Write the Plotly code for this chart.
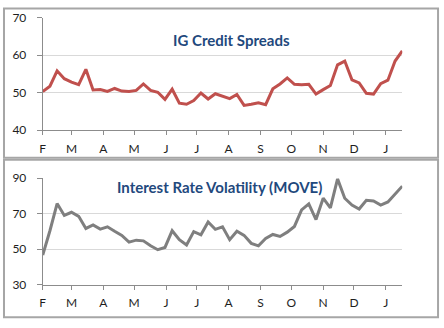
import plotly.graph_objects as go
import pandas as pd

W, H = 444, 328

# weekly observations, Feb 1 .. mid-Jan
start_date = "2013-02-01"
n_points = 51

ig_spreads = [50.3, 51.7, 55.8, 53.7, 52.8, 52.1, 56.2, 50.7, 50.8, 50.3,
              51.1, 50.4, 50.3, 50.6, 52.3, 50.6, 50.1, 48.2, 50.9, 47.2,
              46.9, 47.9, 49.9, 48.3, 49.7, 49.1, 48.4, 49.5, 46.6, 46.9,
              47.3, 46.8, 51.0, 52.3, 53.9, 52.2, 52.1, 52.2, 49.6, 50.8,
              51.9, 57.4, 58.4, 53.4, 52.6, 49.8, 49.6, 52.4, 53.3, 58.4,
              61.1]

move_index = [46.7, 60.4, 75.7, 69.0, 70.8, 68.5, 61.7, 63.7, 61.3, 62.6,
              60.1, 57.8, 54.0, 55.1, 54.7, 51.9, 49.7, 51.0, 60.4, 55.4,
              52.4, 59.9, 58.1, 65.3, 61.2, 62.6, 55.4, 60.1, 57.8, 53.3,
              51.9, 56.0, 58.3, 57.2, 59.6, 62.8, 72.1, 75.5, 66.7, 78.7,
              73.3, 89.6, 78.7, 74.8, 72.6, 77.5, 77.1, 74.8, 76.6, 81.0,
              85.5]

month_ticks = ["2013-02-01", "2013-03-01", "2013-04-01", "2013-05-01",
               "2013-06-01", "2013-07-01", "2013-08-01", "2013-09-01",
               "2013-10-01", "2013-11-01", "2013-12-01", "2014-01-01"]
month_labels = ["F", "M", "A", "M", "J", "J", "A", "S", "O", "N", "D", "J"]

top_title = "IG Credit Spreads"
bottom_title = "Interest Rate Volatility (MOVE)"

dates = pd.date_range(start_date, periods=n_points, freq="7D")


def px_x(x):
    return x / W


def px_y(y):
    return 1 - y / H


FONT = "Lato"
TICK_COLOR = "#1e1e1e"
AXIS_COLOR = "#8c8c8c"
GRID_COLOR = "#d9d9d9"

fig = go.Figure()
fig.add_trace(go.Scatter(x=dates, y=ig_spreads, mode="lines",
                         line=dict(color="#c0504d", width=3),
                         xaxis="x", yaxis="y", showlegend=False))
fig.add_trace(go.Scatter(x=dates, y=move_index, mode="lines",
                         line=dict(color="#7f7f7f", width=3),
                         xaxis="x2", yaxis="y2", showlegend=False))

xdom = [px_x(40), px_x(402)]
xcommon = dict(type="date", range=[dates[0], dates[-1]], domain=xdom,
               tickmode="array", tickvals=month_ticks, ticktext=month_labels,
               showgrid=False, showline=True, linecolor=AXIS_COLOR, linewidth=1,
               ticks="outside", ticklen=4, tickcolor=AXIS_COLOR,
               tickfont=dict(family=FONT, size=12, color=TICK_COLOR),
               ticklabelstandoff=3, zeroline=False)
ycommon = dict(showgrid=True, gridcolor=GRID_COLOR, gridwidth=1,
               showline=True, linecolor=AXIS_COLOR, linewidth=1,
               ticks="outside", ticklen=5, tickcolor=AXIS_COLOR,
               tickfont=dict(family=FONT, size=12, color=TICK_COLOR),
               ticklabelstandoff=8, zeroline=False)

fig.update_layout(
    width=W, height=H,
    margin=dict(l=0, r=0, t=0, b=0),
    paper_bgcolor="white", plot_bgcolor="white",
    xaxis=dict(**xcommon, anchor="y"),
    yaxis=dict(**ycommon, domain=[px_y(128), px_y(10)], range=[40, 70],
               tickvals=[40, 50, 60, 70], anchor="x"),
    xaxis2=dict(**xcommon, anchor="y2"),
    yaxis2=dict(**ycommon, domain=[px_y(290), px_y(178.3)], range=[30, 90],
                tickvals=[30, 50, 70, 90], anchor="x2"),
    annotations=[
        dict(text=top_title, x=px_x(230), y=px_y(34), xref="paper", yref="paper",
             showarrow=False, xanchor="center", yanchor="middle",
             font=dict(family=FONT, size=15, color="#1f497d", weight="bold")),
        dict(text=bottom_title, x=px_x(217.5), y=px_y(188), xref="paper", yref="paper",
             showarrow=False, xanchor="center", yanchor="middle",
             font=dict(family=FONT, size=15, color="#1f497d", weight="bold")),
    ],
    shapes=[
        dict(type="rect", xref="paper", yref="paper",
             x0=px_x(1), x1=px_x(438), y0=px_y(157), y1=px_y(0.5),
             line=dict(color="#a6a6a6", width=2)),
        dict(type="rect", xref="paper", yref="paper",
             x0=px_x(1), x1=px_x(438), y0=px_y(324), y1=px_y(159),
             line=dict(color="#a6a6a6", width=2)),
    ],
)

fig.write_html("out.html")
